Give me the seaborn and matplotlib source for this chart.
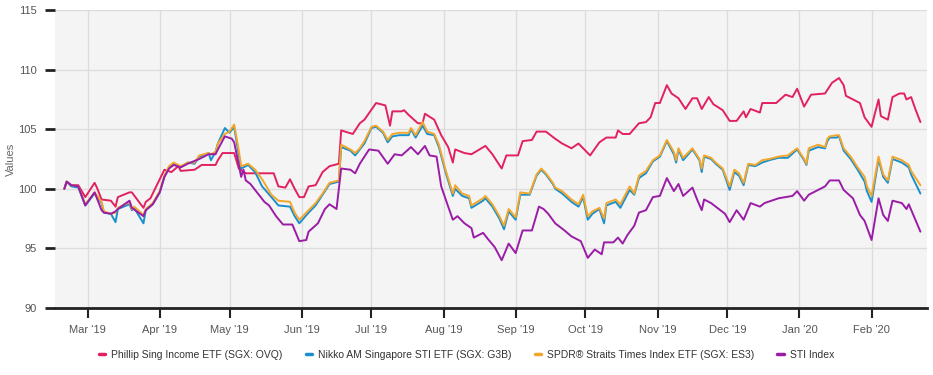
import pandas as pd
import numpy as np
import matplotlib
matplotlib.use("Agg")
import matplotlib.pyplot as plt
import matplotlib.dates as mdates
import seaborn as sns

# Phillip Sing Income ETF (SGX: OVQ)
ovq_dates = [
    "2019-02-19", "2019-02-20", "2019-02-22", "2019-02-25", "2019-02-28", "2019-03-04", "2019-03-05",
    "2019-03-07", "2019-03-11", "2019-03-13", "2019-03-14", "2019-03-19", "2019-03-20", "2019-03-25",
    "2019-03-26", "2019-03-28", "2019-04-01", "2019-04-03", "2019-04-06", "2019-04-09", "2019-04-10",
    "2019-04-16", "2019-04-19", "2019-04-25", "2019-04-26", "2019-04-28", "2019-05-03", "2019-05-05",
    "2019-05-08", "2019-05-12", "2019-05-20", "2019-05-22", "2019-05-25", "2019-05-27", "2019-05-29",
    "2019-05-31", "2019-06-02", "2019-06-04", "2019-06-07", "2019-06-10", "2019-06-13", "2019-06-15",
    "2019-06-17", "2019-06-18", "2019-06-23", "2019-06-26", "2019-06-28", "2019-07-03", "2019-07-07",
    "2019-07-09", "2019-07-10", "2019-07-14", "2019-07-15", "2019-07-17", "2019-07-21", "2019-07-23",
    "2019-07-24", "2019-07-28", "2019-07-31", "2019-08-03", "2019-08-05", "2019-08-06", "2019-08-10",
    "2019-08-13", "2019-08-19", "2019-08-22", "2019-08-26", "2019-08-28", "2019-09-02", "2019-09-04",
    "2019-09-08", "2019-09-10", "2019-09-14", "2019-09-18", "2019-09-21", "2019-09-25", "2019-09-28",
    "2019-10-03", "2019-10-07", "2019-10-10", "2019-10-14", "2019-10-15", "2019-10-17", "2019-10-20",
    "2019-10-24", "2019-10-27", "2019-10-29", "2019-10-31", "2019-11-02", "2019-11-05", "2019-11-07",
    "2019-11-10", "2019-11-13", "2019-11-16", "2019-11-18", "2019-11-20", "2019-11-23", "2019-11-25",
    "2019-11-29", "2019-12-02", "2019-12-05", "2019-12-08", "2019-12-09", "2019-12-11", "2019-12-15",
    "2019-12-16", "2019-12-22", "2019-12-26", "2019-12-29", "2019-12-31", "2020-01-03", "2020-01-06",
    "2020-01-12", "2020-01-15", "2020-01-18", "2020-01-20", "2020-01-21", "2020-01-27", "2020-01-29",
    "2020-02-01", "2020-02-02", "2020-02-04", "2020-02-05", "2020-02-08", "2020-02-10", "2020-02-13",
    "2020-02-15", "2020-02-16", "2020-02-18", "2020-02-20", "2020-02-22",
]
ovq_values = [
    100.0, 100.6, 100.3, 100.3, 99.3, 100.5, 100.1,
    99.1, 99.0, 98.5, 99.3, 99.7, 99.7, 98.4,
    98.9, 99.2, 100.8, 101.6, 101.4, 101.9, 101.5,
    101.6, 102.0, 102.0, 102.4, 103.0, 103.0, 101.7,
    101.3, 101.3, 101.3, 100.2, 100.1, 100.8, 100.0,
    99.3, 99.3, 100.2, 100.3, 101.4, 101.9, 102.0,
    102.1, 104.9, 104.6, 105.5, 105.8, 107.2, 107.0,
    105.3, 106.5, 106.5, 106.6, 106.2, 105.5, 105.5,
    106.3, 105.8, 104.5, 103.5, 102.2, 103.3, 103.0,
    102.9, 103.6, 102.9, 101.7, 102.8, 102.8, 104.0,
    104.1, 104.8, 104.8, 104.2, 103.8, 103.4, 103.8,
    102.8, 103.9, 104.3, 104.3, 104.9, 104.6, 104.6,
    105.5, 105.6, 106.0, 107.2, 107.2, 108.7, 108.0,
    107.6, 106.7, 107.6, 107.6, 106.7, 107.7, 107.1,
    106.6, 105.7, 105.7, 106.5, 106.0, 106.7, 106.4,
    107.2, 107.2, 107.9, 107.7, 108.4, 106.9, 107.9,
    108.0, 108.9, 109.3, 108.7, 107.8, 107.2, 106.0,
    105.2, 106.0, 107.5, 106.1, 105.8, 107.7, 108.0,
    108.0, 107.5, 107.7, 106.6, 105.6,
]

# Nikko AM STI ETF (G3B) and SPDR STI ETF (ES3) share the same dates
etf_dates = [
    "2019-02-19", "2019-02-20", "2019-02-22", "2019-02-25", "2019-02-28", "2019-03-04", "2019-03-07",
    "2019-03-08", "2019-03-11", "2019-03-13", "2019-03-14", "2019-03-19", "2019-03-20", "2019-03-21",
    "2019-03-25", "2019-03-26", "2019-03-29", "2019-04-01", "2019-04-03", "2019-04-05", "2019-04-07",
    "2019-04-10", "2019-04-13", "2019-04-16", "2019-04-18", "2019-04-22", "2019-04-23", "2019-04-25",
    "2019-04-26", "2019-04-29", "2019-05-01", "2019-05-03", "2019-05-05", "2019-05-06", "2019-05-09",
    "2019-05-12", "2019-05-15", "2019-05-19", "2019-05-22", "2019-05-27", "2019-05-29", "2019-05-31",
    "2019-06-04", "2019-06-07", "2019-06-10", "2019-06-13", "2019-06-15", "2019-06-17", "2019-06-18",
    "2019-06-22", "2019-06-24", "2019-06-26", "2019-06-28", "2019-07-01", "2019-07-03", "2019-07-06",
    "2019-07-08", "2019-07-10", "2019-07-13", "2019-07-17", "2019-07-18", "2019-07-20", "2019-07-23",
    "2019-07-25", "2019-07-28", "2019-07-30", "2019-08-02", "2019-08-05", "2019-08-06", "2019-08-09",
    "2019-08-12", "2019-08-13", "2019-08-18", "2019-08-19", "2019-08-22", "2019-08-25", "2019-08-27",
    "2019-08-29", "2019-09-01", "2019-09-03", "2019-09-07", "2019-09-10", "2019-09-12", "2019-09-14",
    "2019-09-17", "2019-09-18", "2019-09-21", "2019-09-25", "2019-09-28", "2019-09-30", "2019-10-02",
    "2019-10-04", "2019-10-07", "2019-10-09", "2019-10-10", "2019-10-14", "2019-10-16", "2019-10-20",
    "2019-10-22", "2019-10-24", "2019-10-27", "2019-10-30", "2019-11-02", "2019-11-05", "2019-11-08",
    "2019-11-09", "2019-11-10", "2019-11-12", "2019-11-16", "2019-11-19", "2019-11-20", "2019-11-21",
    "2019-11-24", "2019-11-26", "2019-11-29", "2019-12-02", "2019-12-04", "2019-12-06", "2019-12-08",
    "2019-12-10", "2019-12-13", "2019-12-16", "2019-12-19", "2019-12-23", "2019-12-27", "2019-12-31",
    "2020-01-03", "2020-01-04", "2020-01-05", "2020-01-09", "2020-01-12", "2020-01-13", "2020-01-14",
    "2020-01-17", "2020-01-18", "2020-01-20", "2020-01-23", "2020-01-26", "2020-01-29", "2020-01-30",
    "2020-02-01", "2020-02-04", "2020-02-06", "2020-02-08", "2020-02-10", "2020-02-14", "2020-02-17",
    "2020-02-18", "2020-02-22",
]
g3b_values = [
    100.0, 100.6, 100.2, 100.1, 98.6, 99.6, 98.8,
    98.0, 97.9, 97.2, 98.3, 98.7, 98.2, 98.4,
    97.1, 98.2, 98.7, 99.7, 101.0, 101.8, 102.1,
    101.8, 102.2, 102.1, 102.7, 103.0, 102.4, 103.1,
    103.8, 105.1, 104.7, 105.2, 102.8, 101.7, 102.0,
    101.4, 100.2, 99.3, 98.6, 98.5, 97.7, 97.1,
    98.0, 98.6, 99.5, 100.4, 100.5, 100.6, 103.5,
    103.2, 102.8, 103.3, 103.8, 105.1, 105.2, 104.7,
    103.9, 104.4, 104.5, 104.5, 105.0, 104.3, 105.3,
    104.6, 104.5, 103.5, 101.3, 99.4, 100.0, 99.4,
    99.2, 98.4, 99.0, 99.2, 98.5, 97.5, 96.6,
    98.1, 97.4, 99.5, 99.5, 101.1, 101.6, 101.2,
    100.4, 100.0, 99.6, 98.9, 98.5, 99.3, 97.4,
    97.9, 98.3, 97.1, 98.6, 98.9, 98.4, 99.9,
    99.5, 100.9, 101.3, 102.3, 102.7, 104.0, 102.9,
    102.2, 103.3, 102.4, 103.3, 102.4, 101.4, 102.7,
    102.5, 102.1, 101.6, 99.9, 101.4, 101.1, 100.3,
    102.0, 101.9, 102.2, 102.4, 102.6, 102.6, 103.3,
    102.4, 102.0, 103.2, 103.5, 103.4, 104.0, 104.3,
    104.3, 104.4, 103.2, 102.5, 101.6, 100.6, 99.8,
    98.9, 102.5, 101.0, 100.5, 102.5, 102.2, 101.8,
    101.2, 99.6,
]
es3_values = [
    100.0, 100.6, 100.3, 100.2, 98.7, 99.7, 98.9,
    98.1, 97.9, 98.0, 98.4, 98.9, 98.3, 98.5,
    97.8, 98.3, 98.8, 99.8, 101.1, 101.9, 102.2,
    101.9, 102.2, 102.2, 102.8, 103.0, 102.9, 103.1,
    103.8, 104.6, 104.8, 105.4, 103.2, 101.9, 102.1,
    101.6, 100.8, 99.5, 99.0, 98.9, 98.0, 97.4,
    98.2, 98.8, 99.6, 100.5, 100.6, 100.7, 103.7,
    103.3, 103.0, 103.4, 104.0, 105.2, 105.3, 104.8,
    104.1, 104.6, 104.7, 104.7, 105.1, 104.5, 105.6,
    104.8, 104.6, 103.7, 101.5, 99.6, 100.3, 99.6,
    99.4, 98.6, 99.2, 99.4, 98.7, 97.7, 96.9,
    98.3, 97.6, 99.7, 99.6, 101.2, 101.7, 101.3,
    100.5, 100.1, 99.8, 99.1, 98.7, 99.5, 97.7,
    98.1, 98.4, 97.5, 98.8, 99.1, 98.7, 100.2,
    99.6, 101.1, 101.5, 102.4, 102.8, 104.1, 103.1,
    102.4, 103.4, 102.6, 103.4, 102.5, 101.7, 102.8,
    102.6, 102.2, 101.7, 100.2, 101.6, 101.3, 100.5,
    102.1, 102.0, 102.4, 102.5, 102.7, 102.8, 103.4,
    102.5, 102.1, 103.4, 103.7, 103.5, 104.2, 104.4,
    104.5, 104.5, 103.4, 102.7, 101.8, 101.0, 100.2,
    99.4, 102.7, 101.2, 100.7, 102.7, 102.4, 102.0,
    101.5, 100.3,
]

# STI Index
sti_dates = [
    "2019-02-19", "2019-02-20", "2019-02-22", "2019-02-25", "2019-02-28", "2019-03-04", "2019-03-07",
    "2019-03-08", "2019-03-11", "2019-03-13", "2019-03-14", "2019-03-19", "2019-03-20", "2019-03-25",
    "2019-03-26", "2019-03-29", "2019-04-01", "2019-04-03", "2019-04-05", "2019-04-07", "2019-04-10",
    "2019-04-13", "2019-04-18", "2019-04-22", "2019-04-25", "2019-04-26", "2019-04-29", "2019-05-02",
    "2019-05-03", "2019-05-05", "2019-05-06", "2019-05-07", "2019-05-08", "2019-05-10", "2019-05-12",
    "2019-05-16", "2019-05-18", "2019-05-21", "2019-05-24", "2019-05-28", "2019-05-31", "2019-06-03",
    "2019-06-04", "2019-06-08", "2019-06-11", "2019-06-13", "2019-06-16", "2019-06-18", "2019-06-22",
    "2019-06-24", "2019-06-26", "2019-06-30", "2019-07-04", "2019-07-08", "2019-07-11", "2019-07-14",
    "2019-07-18", "2019-07-21", "2019-07-24", "2019-07-26", "2019-07-29", "2019-07-31", "2019-08-03",
    "2019-08-05", "2019-08-07", "2019-08-10", "2019-08-13", "2019-08-14", "2019-08-18", "2019-08-20",
    "2019-08-23", "2019-08-26", "2019-08-29", "2019-09-01", "2019-09-04", "2019-09-08", "2019-09-11",
    "2019-09-13", "2019-09-15", "2019-09-18", "2019-09-22", "2019-09-25", "2019-09-29", "2019-10-02",
    "2019-10-05", "2019-10-08", "2019-10-09", "2019-10-13", "2019-10-15", "2019-10-17", "2019-10-19",
    "2019-10-22", "2019-10-24", "2019-10-27", "2019-10-30", "2019-11-02", "2019-11-05", "2019-11-08",
    "2019-11-10", "2019-11-12", "2019-11-16", "2019-11-18", "2019-11-20", "2019-11-21", "2019-11-24",
    "2019-11-28", "2019-11-30", "2019-12-02", "2019-12-05", "2019-12-08", "2019-12-11", "2019-12-15",
    "2019-12-17", "2019-12-23", "2019-12-26", "2019-12-29", "2019-12-31", "2020-01-03", "2020-01-05",
    "2020-01-08", "2020-01-12", "2020-01-14", "2020-01-18", "2020-01-20", "2020-01-24", "2020-01-27",
    "2020-01-29", "2020-02-01", "2020-02-04", "2020-02-06", "2020-02-08", "2020-02-10", "2020-02-14",
    "2020-02-16", "2020-02-17", "2020-02-22",
]
sti_values = [
    100.0, 100.6, 100.3, 100.2, 98.6, 99.7, 98.2,
    98.0, 97.9, 98.1, 98.3, 99.0, 98.4, 97.7,
    98.2, 98.7, 99.7, 101.0, 101.7, 102.0, 101.8,
    102.1, 102.5, 102.9, 102.9, 103.3, 104.4, 104.2,
    103.9, 102.0, 101.0, 101.6, 100.7, 100.4, 99.9,
    98.9, 98.6, 97.7, 97.0, 97.0, 95.6, 95.7,
    96.4, 97.1, 98.3, 98.7, 98.3, 101.7, 101.6,
    101.3, 102.1, 103.3, 103.2, 102.1, 102.9, 102.8,
    103.5, 102.9, 103.6, 102.8, 102.7, 100.2, 98.5,
    97.4, 97.7, 97.1, 96.7, 95.9, 96.3, 95.8,
    95.1, 94.0, 95.4, 94.6, 96.5, 96.5, 98.5,
    98.3, 97.9, 97.1, 96.5, 96.0, 95.6, 94.2,
    94.9, 94.5, 95.5, 95.5, 95.9, 95.4, 96.1,
    96.9, 98.0, 98.2, 99.3, 99.4, 100.9, 99.8,
    100.4, 99.4, 100.1, 99.1, 98.2, 99.1, 98.8,
    98.2, 97.9, 97.2, 98.2, 97.4, 98.8, 98.5,
    98.8, 99.2, 99.3, 99.4, 99.8, 99.0, 99.5,
    99.8, 100.2, 100.7, 100.7, 99.9, 99.2, 97.8,
    97.3, 95.7, 99.2, 97.8, 97.3, 99.0, 98.8,
    98.3, 98.7, 96.4,
]

series_names = [
    "Phillip Sing Income ETF (SGX: OVQ)",
    "Nikko AM Singapore STI ETF (SGX: G3B)",
    "SPDR\u00ae Straits Times Index ETF (SGX: ES3)",
    "STI Index",
]
colors = ["#e2215f", "#1a8fcc", "#f2a72c", "#9b1ca6"]

frames = [
    pd.DataFrame({"Date": ovq_dates, "Value": ovq_values, "Series": series_names[0]}),
    pd.DataFrame({"Date": etf_dates, "Value": g3b_values, "Series": series_names[1]}),
    pd.DataFrame({"Date": etf_dates, "Value": es3_values, "Series": series_names[2]}),
    pd.DataFrame({"Date": sti_dates, "Value": sti_values, "Series": series_names[3]}),
]
df = pd.concat(frames, ignore_index=True)
df["Date"] = pd.to_datetime(df["Date"])

sns.set_style("white")
plt.rcParams["font.family"] = ["Liberation Sans", "DejaVu Sans"]

fig = plt.figure(figsize=(9.33, 3.75), dpi=100)
ax = fig.add_axes([0.059, 0.179, 0.935, 0.794])
ax.set_facecolor("#f4f4f4")

sns.lineplot(data=df, x="Date", y="Value", hue="Series", hue_order=series_names,
             palette=colors, linewidth=1.4, ax=ax, legend=False, sort=True)

ax.set_ylim(90, 115)
ax.set_yticks(np.arange(90, 116, 5))
ax.set_xlim(pd.Timestamp("2019-02-15"), pd.Timestamp("2020-02-25"))
ax.xaxis.set_major_locator(mdates.MonthLocator())
ax.xaxis.set_major_formatter(mdates.DateFormatter("%b '%y"))

ax.grid(True, color="#dcdcdc", linewidth=0.9)
ax.set_axisbelow(True)
for side in ["top", "right", "left"]:
    ax.spines[side].set_visible(False)
ax.spines["bottom"].set_color("#222222")
ax.spines["bottom"].set_linewidth(2)

ax.tick_params(axis="y", left=True, length=7, width=2, color="#222222", labelsize=8,
               labelcolor="#555555", pad=6)
ax.tick_params(axis="x", bottom=True, length=7, width=1.5, color="#222222", labelsize=8,
               labelcolor="#555555", pad=5)
ax.set_xlabel("")
ax.set_ylabel("Values", fontsize=8, color="#666666", labelpad=2)

handles = [plt.Line2D([], [], color=c, linewidth=2.5) for c in colors]
fig.legend(handles, series_names, loc="center", bbox_to_anchor=(0.5, 0.053), ncol=4,
           frameon=False, fontsize=7.5, handlelength=0.6, handletextpad=0.6,
           columnspacing=2.2, labelcolor="#333333")

fig.savefig("out.png", dpi=100)
